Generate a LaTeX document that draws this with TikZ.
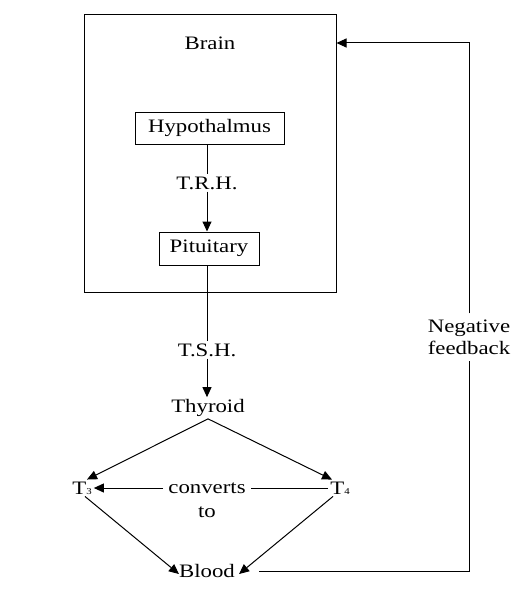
\documentclass[tikz,border=0pt]{standalone}
\usepackage{fontspec}
\setmainfont{Liberation Serif}[FakeStretch=1.2]
\usetikzlibrary{arrows.meta,calc}
\begin{document}
\begin{tikzpicture}[x=1pt,y=-1pt,
  every node/.style={font=\fontsize{19}{24}\selectfont, inner sep=2pt},
  lbl/.style={},
  organ/.style={draw, line width=1pt, inner sep=0pt},
  conn/.style={line width=1pt},
  arr/.style={conn, -{Triangle[length=10pt,width=9pt]}}]
\useasboundingbox (0,0) rectangle (531,594);
% brain region
\node[organ, minimum width=252pt, minimum height=277pt] (brain) at (210,153.5) {};
\node[lbl] (brainlbl) at (210,43) {Brain};
\node[organ, minimum width=149pt, minimum height=32pt] (hyp) at (209.5,128) {Hypothalmus};
\node[lbl] (trh) at (207,183) {T.R.H.};
\node[organ, minimum width=100pt, minimum height=33pt] (pit) at (209,248.5) {Pituitary};
\node[lbl] (tsh) at (207,350) {T.S.H.};
\node[lbl] (thy) at (208,408) {Thyroid};
\node[lbl] (t3) at (82,488) {T{\fontsize{9}{9}\selectfont 3}};
\node[lbl] (t4) at (340,488) {T{\fontsize{9}{9}\selectfont 4}};
\node[lbl, inner xsep=5pt] (conv) at (207,488) {converts};
\node[lbl] (cto) at (207,512) {to};
\node[lbl] (blood) at (207,571) {Blood};
\node[lbl, align=center, inner sep=6pt] (nf) at (469,337) {Negative\\[-2pt]feedback};
\coordinate (ctr) at (469,43);
% connectors
\draw[conn] (hyp.south -| trh) -- (trh.north);
\draw[arr] (trh.south) -- (pit.north -| trh);
\draw[conn] (pit.south -| tsh) -- (tsh.north);
\draw[arr] (tsh.south) -- (thy.north -| tsh);
\draw[arr] (thy.south) -- ([xshift=5pt]t3.north);
\draw[arr] (thy.south) -- ([xshift=-8pt]t4.north);
\draw[conn] (t4.west) -- (conv.east);
\draw[arr] (conv.west) -- (t3.east);
\draw[arr] ([xshift=3pt]t3.south) -- ([xshift=2pt,yshift=-3pt]blood.west);
\draw[arr] ([xshift=-7pt]t4.south) -- ([xshift=2pt,yshift=-3pt]blood.east);
\draw[conn] ([xshift=22pt]blood.east) -- (blood.east -| nf) -- (nf.south);
\draw[arr] (nf.north) -- (ctr) -- (brain.east |- ctr);
\end{tikzpicture}
\end{document}
